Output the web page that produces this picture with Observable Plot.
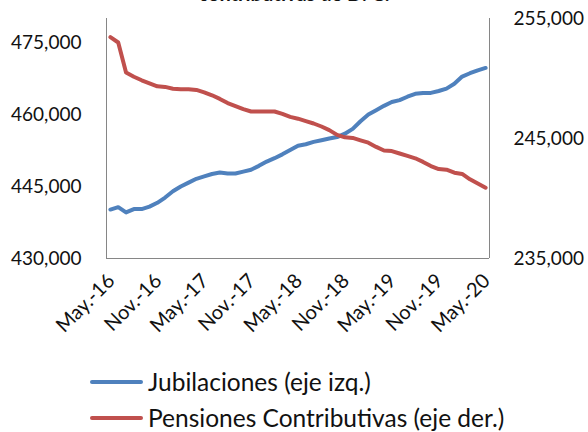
<!DOCTYPE html>
<html>
<head>
<meta charset="utf-8">
<script src="https://cdn.jsdelivr.net/npm/d3@7"></script>
<script src="https://cdn.jsdelivr.net/npm/@observablehq/plot@0.6"></script>
<style>
  html, body { margin: 0; padding: 0; background: #fff; }
  body { position: relative; width: 588px; height: 432px; overflow: hidden; font-family: Lato, sans-serif; color: #111; }
  #title { position: absolute; left: 0; top: -19px; width: 588px; text-align: center; font-weight: bold; font-size: 20px; line-height: 24px; }
  #chart { position: absolute; left: 0; top: 0; }
  .leg { position: absolute; left: 90px; height: 28px; display: flex; align-items: center; font-size: 24.5px; line-height: 28px; }
  .leg .sw { width: 53px; height: 4px; border-radius: 2px; margin-right: 5px; }
</style>
</head>
<body>
<div id="title">contributivas de D. C.</div>
<div id="chart"></div>
<div class="leg" style="top:368px"><div class="sw" style="background:#4F81BD"></div><span>Jubilaciones (eje izq.)</span></div>
<div class="leg" style="top:404px"><div class="sw" style="background:#C0504D"></div><span>Pensiones Contributivas (eje der.)</span></div>
<script>
// Monthly series May-2016 .. May-2020 (49 months)
const jubilaciones = [
  440200, 440700, 439600, 440300, 440300, 440800, 441600, 442700, 444000, 445000,
  445800, 446600, 447100, 447600, 447900, 447700, 447700, 448100, 448500, 449300,
  450200, 450900, 451700, 452600, 453500, 453800, 454300, 454650, 455000, 455300,
  456000, 457000, 458600, 460000, 460900, 461800, 462600, 463000, 463700, 464300,
  464500, 464500, 464900, 465400, 466400, 467900, 468600, 469200, 469700
];
const pensiones = [
  253450, 253000, 250500, 250150, 249850, 249600, 249350, 249300, 249150, 249100,
  249100, 249050, 248850, 248600, 248300, 247950, 247700, 247450, 247250, 247250,
  247250, 247250, 247050, 246800, 246650, 246450, 246250, 246000, 245700, 245300,
  245100, 245050, 244850, 244650, 244300, 244000, 243950, 243750, 243550, 243350,
  243050, 242700, 242450, 242400, 242150, 242050, 241600, 241250, 240900
];
const tickLabels = ["May.-16","Nov.-16","May.-17","Nov.-17","May.-18","Nov.-18","May.-19","Nov.-19","May.-20"];
const tickIdx = [0, 6, 12, 18, 24, 30, 36, 42, 48];
const leftTicks = [430000, 445000, 460000, 475000];
const leftDomain = [430000, 480000];
const rightTicks = [235000, 245000, 255000];
const rightDomain = [235000, 255000];

const k = (leftDomain[1] - leftDomain[0]) / (rightDomain[1] - rightDomain[0]);
const toLeft = v => leftDomain[0] + (v - rightDomain[0]) * k;
const fromLeft = v => rightDomain[0] + (v - leftDomain[0]) / k;
const fmt = d3.format(",");

const jubRows = jubilaciones.map((v, i) => ({i, v}));
const penRows = pensiones.map((v, i) => ({i, v: toLeft(v)}));

const chart = Plot.plot({
  width: 588,
  height: 360,
  marginLeft: 106,
  marginRight: 99,
  marginTop: 18,
  marginBottom: 102,
  style: {fontFamily: "Lato, sans-serif", fontSize: "19px", color: "#111", background: "transparent", overflow: "visible"},
  x: {domain: [-0.5, jubilaciones.length - 0.5]},
  y: {domain: leftDomain},
  marks: [
    Plot.axisX({ticks: tickIdx, tickFormat: d => tickLabels[tickIdx.indexOf(d)], tickSize: 0, tickRotate: -45, tickPadding: 19, dx: 1, fontSize: 20, label: null}),
    Plot.axisY({ticks: leftTicks, tickFormat: fmt, tickSize: 0, tickPadding: 25, label: null}),
    Plot.axisY({anchor: "right", ticks: rightTicks.map(toLeft), tickFormat: d => fmt(Math.round(fromLeft(d))), tickSize: 0, tickPadding: 24, label: null}),
    Plot.ruleX([-0.5, jubilaciones.length - 0.5], {stroke: "#868686", strokeWidth: 1}),
    Plot.ruleY([leftDomain[0]], {stroke: "#868686", strokeWidth: 1}),
    Plot.line(jubRows, {x: "i", y: "v", stroke: "#4F81BD", strokeWidth: 4, strokeLinejoin: "round", strokeLinecap: "round"}),
    Plot.line(penRows, {x: "i", y: "v", stroke: "#C0504D", strokeWidth: 4, strokeLinejoin: "round", strokeLinecap: "round"})
  ]
});
document.getElementById("chart").appendChild(chart);
</script>
</body>
</html>
